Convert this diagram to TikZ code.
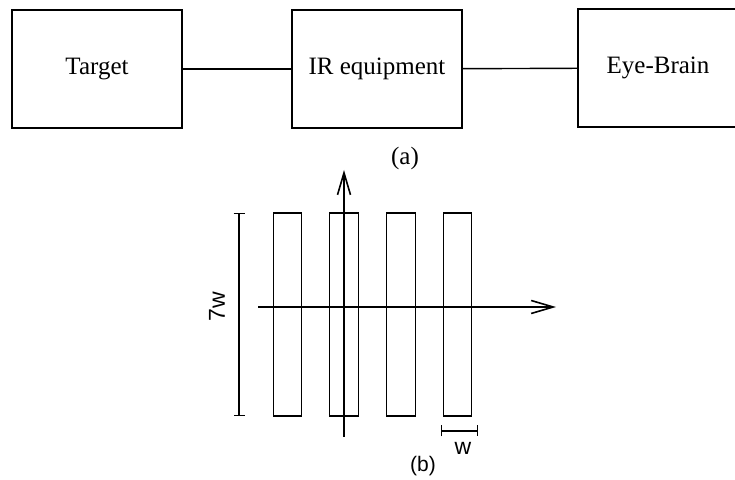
\documentclass[tikz,border=0pt]{standalone}
\usepackage{fontspec}
\setmainfont{Liberation Serif}
\setsansfont{Liberation Sans}
\usetikzlibrary{arrows.meta,positioning}

\begin{document}
\begin{tikzpicture}[x=.5pt,y=-.5pt,line width=.7pt,
  block/.style={draw,minimum width=85pt,minimum height=59pt,font=\fontsize{12.5}{14}\selectfont},
  bar/.style={draw,minimum width=14.25pt,minimum height=101.5pt,inner sep=0pt},
  dimline/.style={{Bar[width=5.5pt]}-{Bar[width=5.5pt]}},
  axis/.style={-{Straight Barb[length=11pt,width=6.5pt,line width=.8pt]}},
  lbl/.style={font=\sffamily\fontsize{11.5}{13}\selectfont}]
\useasboundingbox (0,0) rectangle (735,480);
% (a) chain
\node[block] (target) at (97,69) {Target};
\node[block] (ir) at (377,69) {IR equipment};
\node[block,minimum width=80pt] (eye) at (658,68) {Eye-Brain};
\draw (target) -- (ir);
\draw (ir) -- (eye);
\node[font=\fontsize{12.5}{14}\selectfont] (capa) at (405,158) {(a)};
% (b) bar pattern
\foreach \i/\x in {1/287.5,2/344,3/401,4/457.5}
  \node[bar] (bar\i) at (\x,314.5) {};
\coordinate (xs) at (258,307); \coordinate (xe) at (556,307);
\coordinate (ys) at (344,437); \coordinate (ye) at (344,170);
\draw[axis] (xs) -- (xe);
\draw[axis] (ys) -- (ye);
\coordinate (ht) at (239,213); \coordinate (hb) at (239,416);
\draw[dimline] (ht) -- (hb);
\node[lbl,rotate=90] (sevenw) at (217,307) {7w};
\coordinate (wl) at (441,431); \coordinate (wr) at (478,431);
\draw[dimline] (wl) -- (wr);
\node[lbl] (wlab) at (463,448) {w};
\node[lbl,font=\sffamily\fontsize{10.5}{12}\selectfont] (capb) at (423,466) {(b)};
\end{tikzpicture}
\end{document}
